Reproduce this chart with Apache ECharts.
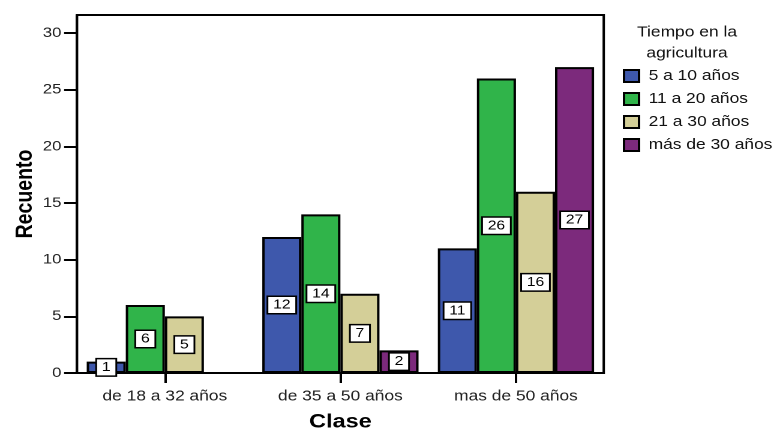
<!DOCTYPE html>
<html>
<head>
<meta charset="utf-8">
<script src="https://cdn.jsdelivr.net/npm/echarts@6/dist/echarts.min.js"></script>
<style>
  html, body { margin: 0; padding: 0; background: #fff; overflow: hidden; }
  /* the chart is drawn on a narrower canvas and widened, giving the wide lettering of the original graphic */
  #chart { width: 645.83px; height: 428px; transform: scaleX(1.2); transform-origin: 0 0; }
</style>
</head>
<body>
<div id="chart"></div>
<script>
// Age classes on the x axis
const categories = ['de 18 a 32 años', 'de 35 a 50 años', 'mas de 50 años'];

// Counts per farming-experience group (null = no bar)
const seriesNames = ['5 a 10 años', '11 a 20 años', '21 a 30 años', 'más de 30 años'];
const años5a10 = [1, 12, 11];
const años11a20 = [6, 14, 26];
const años21a30 = [5, 7, 16];
const masDe30 = [null, 2, 27];

// Value axis ticks
const yTicks = [0, 5, 10, 15, 20, 25, 30];

const colors = ['#3E58AC', '#30B44A', '#D4CF98', '#7C2A7C'];
const FONT = 'Liberation Sans, Arial, sans-serif';

const values = [años5a10, años11a20, años21a30, masDe30];

const series = values.map((data, i) => ({
  name: seriesNames[i],
  type: 'bar',
  data: data,
  barGap: 0,
  barCategoryGap: '11%',
  itemStyle: { color: colors[i], borderColor: '#000', borderWidth: 2 },
  label: {
    show: true,
    position: 'inside',
    color: '#000',
    fontFamily: FONT,
    fontSize: 13,
    backgroundColor: '#fff',
    borderColor: '#000',
    borderWidth: 1.5,
    padding: [1, 4, 0, 4],
    lineHeight: 15
  }
}));

const chart = echarts.init(document.getElementById('chart'), null, { renderer: 'canvas', devicePixelRatio: 2 });
chart.setOption({
  animation: false,
  backgroundColor: '#fff',
  textStyle: { fontFamily: FONT },
  title: {
    text: 'Tiempo en la\nagricultura',
    left: 567.5,
    top: 17,
    textAlign: 'center',
    textStyle: { fontFamily: FONT, fontSize: 14.5, fontWeight: 'normal', color: '#111', lineHeight: 21 }
  },
  legend: {
    orient: 'vertical',
    left: 514,
    top: 63.5,
    itemWidth: 12.5,
    itemHeight: 12,
    itemGap: 8,
    icon: 'rect',
    itemStyle: { borderColor: '#000', borderWidth: 2 },
    textStyle: { fontFamily: FONT, fontSize: 14.5, color: '#111', padding: [0, 0, 0, 3] },
    data: seriesNames
  },
  grid: {
    left: 64.2,
    right: 142.9,
    top: 15,
    bottom: 55,
    outerBoundsMode: 'none',
    containLabel: false,
    show: true,
    borderColor: '#000',
    borderWidth: 2,
    backgroundColor: '#fff'
  },
  xAxis: {
    type: 'category',
    data: categories,
    name: 'Clase',
    nameLocation: 'middle',
    nameGap: 39,
    nameMoveOverlap: false,
    nameTextStyle: { fontFamily: FONT, fontSize: 19.5, fontWeight: 'bold', color: '#000' },
    axisLine: { lineStyle: { color: '#000', width: 2 } },
    axisTick: { show: true, alignWithLabel: true, length: 10, lineStyle: { color: '#000', width: 2 } },
    axisLabel: { fontFamily: FONT, fontSize: 14.5, color: '#222', margin: 16 }
  },
  yAxis: {
    type: 'value',
    min: 0,
    max: 31.6,
    interval: 5,
    name: 'Recuento',
    nameLocation: 'middle',
    nameGap: 33,
    nameMoveOverlap: false,
    nameTextStyle: { fontFamily: FONT, fontSize: 19.5, fontWeight: 'bold', color: '#000' },
    splitLine: { show: false },
    axisLine: { show: true, lineStyle: { color: '#000', width: 2 } },
    axisTick: { show: true, length: 10.8, customValues: yTicks, lineStyle: { color: '#000', width: 2 } },
    axisLabel: { fontFamily: FONT, fontSize: 14, color: '#222', margin: 13, customValues: yTicks }
  },
  series: series
});
</script>
</body>
</html>
